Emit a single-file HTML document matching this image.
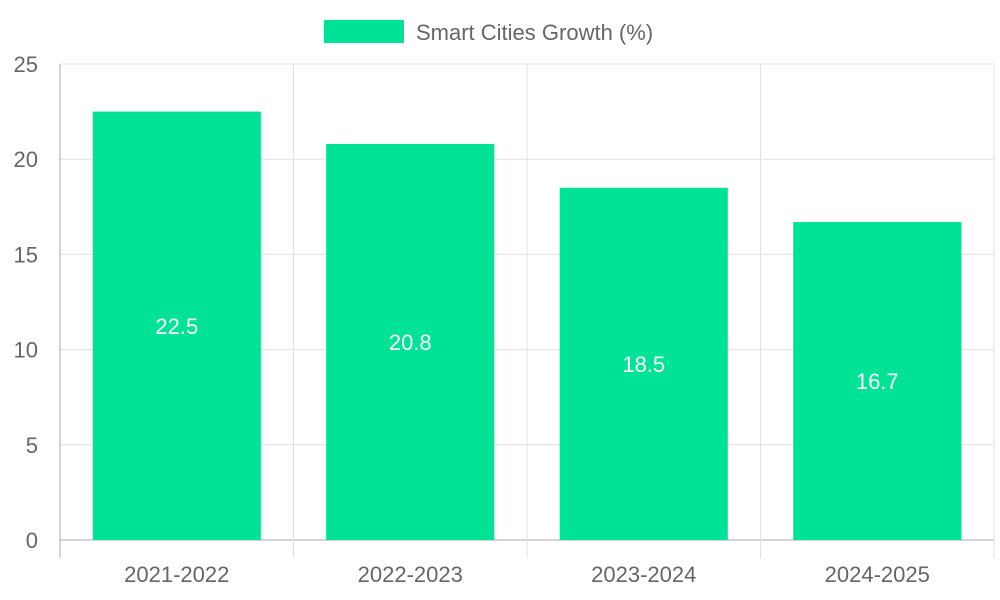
<!DOCTYPE html>
<html><head><meta charset="utf-8"><style>
html,body{margin:0;padding:0;background:#fff;}
svg{display:block;font-family:"Liberation Sans",sans-serif;}
</style></head><body>
<svg id="chart" width="1000" height="600">
<g id="grid"></g>
<g id="bars"></g>
<g id="labels"></g>
<g>
<rect x="324" y="20" width="80" height="23" fill="#00e396"/>
<text x="416" y="40" font-size="22" fill="#666">Smart Cities Growth (%)</text>
</g>
</svg>
<script>
const categories=["2021-2022","2022-2023","2023-2024","2024-2025"];
const values=[22.5,20.8,18.5,16.7];
const yTicks=[0,5,10,15,20,25];
const NS="http://www.w3.org/2000/svg";
const L=60,R=994,T=64,B=540,yMax=25;
const y=v=>B-(v/yMax)*(B-T);
const bw=(R-L)/categories.length;
const x=i=>L+bw*i;
function mk(tag,attrs,parent){const e=document.createElementNS(NS,tag);for(const k in attrs)e.setAttribute(k,attrs[k]);parent.appendChild(e);return e;}
const grid=document.getElementById('grid'),bars=document.getElementById('bars'),labels=document.getElementById('labels');
yTicks.forEach(t=>{
 const l=mk('line',{x1:L,x2:R,y1:y(t),y2:y(t),stroke:t===0?'#aaa':'#e0e0e0','stroke-width':1},grid);
 
 
 const tx=mk('text',{x:38,y:y(t)+8,'text-anchor':'end','font-size':22,fill:'#666'},grid);
 tx.textContent=t;
 
 
});
for(let i=0;i<=categories.length;i++){
 const l=mk('line',{x1:x(i),x2:x(i),y1:T,y2:558,stroke:i===0?'#aaa':'#e0e0e0','stroke-width':1},grid);
 
 
}
categories.forEach((c,i)=>{
 const w=bw*0.72,cx=x(i)+bw/2;
 const r=mk('rect',{x:cx-w/2,y:y(values[i]),width:w,height:B-y(values[i]),fill:'#00e396'},bars);
 
 
 const v=mk('text',{x:cx,y:(y(values[i])+B)/2+8,'text-anchor':'middle','font-size':22,fill:'#fff'},labels);
 v.textContent=values[i];
 
 
 const t=mk('text',{x:cx,y:582,'text-anchor':'middle','font-size':22,fill:'#666'},labels);
 t.textContent=c;
 
 
});
</script>
</body></html>
